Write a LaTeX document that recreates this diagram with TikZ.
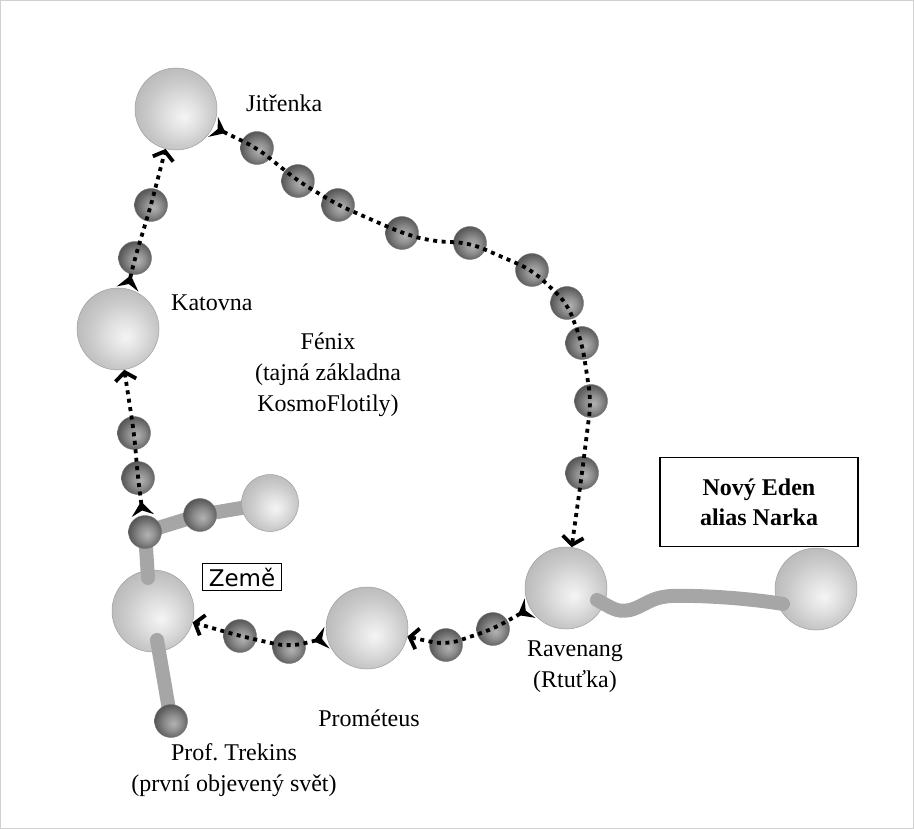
\documentclass[tikz,border=0pt]{standalone}
\usepackage{fontspec}
\setmainfont{Liberation Serif}
\newfontfamily\boxsans{DejaVu Sans}
\usetikzlibrary{arrows.meta}

% light planet: bright spot slightly below-right of the centre
\pgfdeclareradialshading{planetball}{\pgfpoint{5bp}{-5bp}}{%
  color(0bp)=(black!4); color(10bp)=(black!12); color(20bp)=(black!21);
  color(30bp)=(black!28); color(50bp)=(black!28)}
% dark moon / station
\pgfdeclareradialshading{moonball}{\pgfpoint{4bp}{-4bp}}{%
  color(0bp)=(black!30); color(12bp)=(black!44); color(24bp)=(black!62);
  color(32bp)=(black!72); color(50bp)=(black!72)}

\tikzset{
  planet/.style={circle, inner sep=0pt, minimum size=82pt, shade, shading=planetball,
    draw=black!38, line width=0.5pt},
  smallplanet/.style={planet, minimum size=57pt},
  moon/.style={circle, inner sep=0pt, minimum size=33pt, shade, shading=moonball,
    draw=black!55, line width=0.4pt},
  tether/.style={line width=14pt, draw=black!35, line cap=round, line join=round},
  flow/.style={line width=3.8pt, dash pattern=on 4pt off 4.5pt, rounded corners=14pt,
    arrows={Stealth[reversed,length=14pt,width=22pt,inset=5pt]-Straight Barb[length=8pt,width=21pt]}},
  lbl/.style={font=\fontsize{24}{31}\selectfont, align=center, inner sep=0pt},
}

\begin{document}
\begin{tikzpicture}[x=1pt,y=-1pt]
\useasboundingbox (0,0) rectangle (914,829);
\draw[black!18, line width=0.8pt] (0.5,0.5) rectangle (913.5,828.5);

% large planets
\node[planet] (jit)  at (176,109) {};
\node[planet] (kat)  at (118,329) {};
\node[planet] (zem)  at (153,611) {};
\node[planet] (pro)  at (367,628) {};
\node[planet] (rav)  at (566,588) {};
\node[planet] (eden) at (816,589) {};

% tethers from Zeme and Ravenang
\coordinate (ztop) at (148,578);
\coordinate (zbot) at (157,640);
\coordinate (rstart) at (597,600);
\coordinate (estart) at (783,604);
\draw[tether] (ztop) -- (145,532);
\draw[tether] (zbot) -- (171,721);
\draw[tether] (145,532) -- (200,515) -- (265,504);
\draw[tether] (rstart) .. controls (611,607) and (616,613) .. (630,610)
  .. controls (645,606) and (650,597) .. (672,596)
  .. controls (712,595) and (760,600) .. (estart);

\node[smallplanet] (fenix) at (270,503) {};

% small bodies
\node[moon] (jun)  at (145,532) {};
\node[moon] (f1)   at (200,515) {};
\node[moon] (trek) at (171,721) {};

\node[moon] (z1) at (138,478) {};
\node[moon] (z2) at (134,433) {};
\node[moon] (k1) at (135,258) {};
\node[moon] (k2) at (151,205) {};

\node[moon] (t1)  at (257,148) {};
\node[moon] (t2)  at (298,181) {};
\node[moon] (t3)  at (338,205) {};
\node[moon] (t4)  at (402,233) {};
\node[moon] (t5)  at (470,243) {};
\node[moon] (t6)  at (532,270) {};
\node[moon] (t7)  at (567,303) {};
\node[moon] (t8)  at (582,343) {};
\node[moon] (t9)  at (591,401) {};
\node[moon] (t10) at (582,473) {};

\node[moon] (r1) at (493,629) {};
\node[moon] (r2) at (446,645) {};
\node[moon] (p1) at (289,647) {};
\node[moon] (p2) at (240,636) {};

% travel routes
\draw[flow] (jit) -- (t1.center) -- (t2.center) -- (t3.center) -- (t4.center)
  -- (430,241) -- (t5.center) -- (t6.center) -- (t7.center) -- (t8.center)
  -- (t9.center) -- (t10.center) -- (rav);
\draw[flow] (rav) -- (r1.center) -- (r2.center) -- (pro);
\draw[flow] (pro) -- (p1.center) -- (p2.center) -- (zem);
\draw[flow] (jun) -- (z1.center) -- (z2.center) -- (kat);
\draw[flow] (kat) -- (k1.center) -- (k2.center) -- (jit);

% names
\node[lbl, anchor=west] (ljit) at (246,103) {Jitřenka};
\node[lbl, anchor=west] (lkat) at (171,303) {Katovna};
\node[lbl] (lfen) at (328,375) {Fénix\\(tajná základna\\KosmoFlotily)};
\node[draw, line width=1.3pt, inner xsep=6pt, inner ysep=4pt, font=\boxsans\fontsize{23}{27}\selectfont]
  (lzem) at (242,577) {Země};
\node[draw, line width=1.3pt, minimum width=198pt, minimum height=89pt, align=center,
  font=\bfseries\fontsize{24}{30}\selectfont] (leden) at (759,502) {Nový Eden\\alias Narka};
\node[lbl] (lrav) at (575,667) {Ravenang\\(Rtuťka)};
\node[lbl] (lpro) at (369,718) {Prométeus};
\node[lbl] (ltrek) at (234,770) {Prof.\ Trekins\\(první objevený svět)};
\end{tikzpicture}
\end{document}
